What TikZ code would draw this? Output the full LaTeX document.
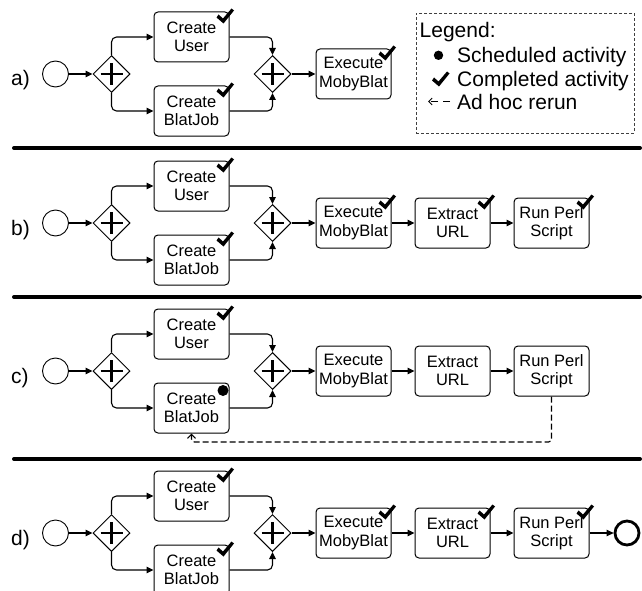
\documentclass[tikz,border=0pt]{standalone}
\usepackage{fontspec}
\setmainfont{Liberation Sans}
\usetikzlibrary{shapes.geometric,arrows.meta,calc}

% one process instance: start event, AND split, two create tasks, AND join, execute task
\newcommand\flowrow[2]{%
  \node[startev] (#1-start) at (55.5,#2) {};
  \node[gateway] (#1-split) at (111.5,#2) {};
  \node[task] (#1-user) at (191.5,#2-37) {Create\\User};
  \node[task] (#1-blat) at (191.5,#2+37) {Create\\BlatJob};
  \node[gateway] (#1-join) at (272.5,#2) {};
  \node[task] (#1-exec) at (353.5,#2) {Execute\\MobyBlat};
  \draw[flow] (#1-start) -- (#1-split);
  \draw[flow] (#1-split.north) |- (#1-user.west);
  \draw[flow] (#1-split.south) |- (#1-blat.west);
  \draw[flow] (#1-user.east) -| (#1-join.north);
  \draw[flow] (#1-blat.east) -| (#1-join.south);
  \draw[flow] (#1-join) -- (#1-exec);
}
% the two tasks that follow the execution
\newcommand\tailtasks[2]{%
  \node[task] (#1-url) at (452.5,#2) {Extract\\URL};
  \node[task] (#1-perl) at (551.5,#2) {Run Perl\\Script};
  \draw[flow] (#1-exec) -- (#1-url);
  \draw[flow] (#1-url) -- (#1-perl);
}
\newcommand\done[1]{\pic at ($(#1.north east)+(-6,11)$) {chk};}

\begin{document}
\begin{tikzpicture}[x=1pt,y=-1pt,
  flow/.style={line width=1.1pt, rounded corners=5pt,
    -{Triangle[length=7pt,width=6.5pt]}},
  task/.style={draw, line width=1pt, rounded corners=4pt,
    minimum width=75pt, minimum height=50pt, inner sep=0pt, align=center,
    font=\fontsize{16.5}{18.5}\selectfont},
  gateway/.style={diamond, draw, line width=1pt, minimum width=37pt,
    minimum height=37pt, inner sep=0pt,
    path picture={\draw[line width=2.8pt]
      ([xshift=-11pt]path picture bounding box.center) --
      ([xshift=11pt]path picture bounding box.center)
      ([yshift=-11pt]path picture bounding box.center) --
      ([yshift=11pt]path picture bounding box.center);}},
  startev/.style={circle, draw, line width=0.9pt, minimum size=26pt, inner sep=0pt},
  endev/.style={circle, draw, line width=2.8pt, minimum size=24pt, inner sep=0pt},
  rowlabel/.style={anchor=base west, inner sep=0pt, font=\fontsize{21}{24}\selectfont},
  legtext/.style={anchor=base west, inner sep=0pt, font=\fontsize{21}{24}\selectfont},
  legendbox/.style={draw=black!75, line width=0.9pt, dash pattern=on 3pt off 2pt,
    minimum width=218pt, minimum height=120pt, inner sep=0pt},
  divider/.style={line width=4pt, line cap=round},
  rerun/.style={line width=1.2pt, dash pattern=on 6pt off 3pt, rounded corners=3pt,
    -{Straight Barb[length=4pt,width=8pt]}},
  chk/.pic={\fill (0,1) -- (-7,-5) -- (-5,-8) -- (-0.5,-4) -- (8,-14) -- (10.5,-12) -- cycle;},
]
\useasboundingbox (0,0) rectangle (642,591);
\clip (0,0) rectangle (642,591);

% section separators
\draw[divider] (14,148) -- (640,148);
\draw[divider] (14,297) -- (640,297);
\draw[divider] (14,459) -- (640,459);

% a) only the first part has run
\node[rowlabel] (lab-a) at (11,86) {a)};
\flowrow{a}{74}
\done{a-user} \done{a-blat} \done{a-exec}

% legend
\node[legendbox] (legend) at (525,73) {};
\node[legtext] (leg-title) at (419.5,38) {Legend:};
\fill (438.5,55.3) circle[radius=4.7];
\node[legtext] (leg-sched) at (457,62.3) {Scheduled activity};
\pic at (439,85.5) {chk};
\node[legtext] (leg-done) at (457,86.5) {Completed activity};
\draw[line width=0.9pt, dash pattern=on 7pt off 5pt,
  -{Straight Barb[length=3.5pt,width=7pt]}] (450,101.5) -- (428,101.5);
\node[legtext] (leg-rerun) at (457,109.5) {Ad hoc rerun};

% b) the whole workflow has completed
\node[rowlabel] (lab-b) at (11,235) {b)};
\flowrow{b}{223}
\tailtasks{b}{223}
\done{b-user} \done{b-blat} \done{b-exec} \done{b-url} \done{b-perl}

% c) BlatJob creation scheduled again by an ad hoc rerun
\node[rowlabel] (lab-c) at (11,383) {c)};
\flowrow{c}{371}
\tailtasks{c}{371}
\done{c-user}
\fill ($(c-blat.north east)+(-6.5,8)$) circle[radius=5.5];
\coordinate (c-loop) at (372,442);
\draw[rerun] (c-perl.south) |- (c-loop) -| (c-blat.south);

% d) finished after the rerun
\node[rowlabel] (lab-d) at (11,545) {d)};
\flowrow{d}{533}
\tailtasks{d}{533}
\node[endev] (d-end) at (627,533) {};
\draw[flow] (d-perl) -- (d-end);
\done{d-user} \done{d-blat} \done{d-exec} \done{d-url} \done{d-perl}
\end{tikzpicture}
\end{document}
